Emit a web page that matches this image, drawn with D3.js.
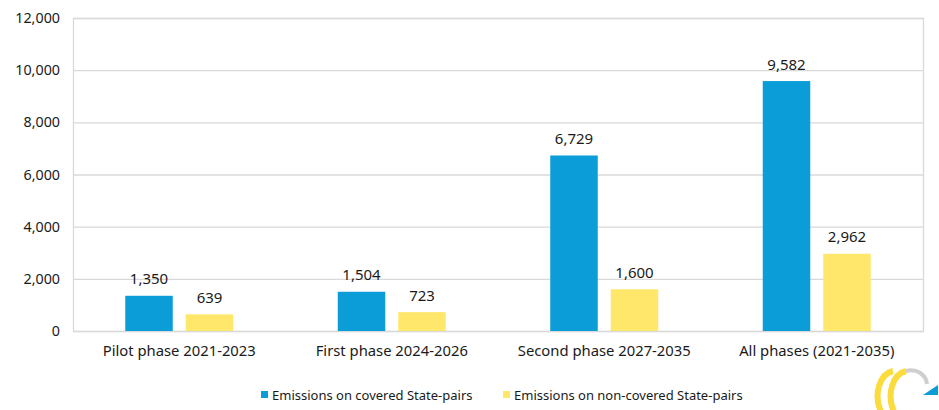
<!DOCTYPE html>
<html><head><meta charset="utf-8">
<script src="https://cdn.jsdelivr.net/npm/d3@7"></script>
<style>
body{margin:0;background:#fff;}
text{font-family:"Noto Sans",sans-serif;fill:#1a1a1a;}
</style></head>
<body>
<svg id="chart" width="939" height="410"></svg>
<script>
const categories = ["Pilot phase 2021-2023","First phase 2024-2026","Second phase 2027-2035","All phases (2021-2035)"];
const covered = [1350,1504,6729,9582];
const nonCovered = [639,723,1600,2962];
const seriesNames = ["Emissions on covered State-pairs","Emissions on non-covered State-pairs"];
const yTicks = [0,2000,4000,6000,8000,10000,12000];
const colors = ["#0a9dd8","#ffe76b"];

const svg = d3.select("#chart");
const L=73,R=923,T=18,B=331;
const x = d3.scaleBand().domain(categories).range([L,R]);
const y = d3.scaleLinear().domain([0,12000]).range([B,T]);
const fmt = d3.format(",");

// grid
svg.append("g").selectAll("line").data(yTicks).join("line")
  .attr("x1",L).attr("x2",R).attr("y1",d=>y(d)+0.5).attr("y2",d=>y(d)+0.5)
  .attr("stroke","#d9d9d9").attr("stroke-width",1.3);
svg.append("rect").attr("x",L+0.5).attr("y",T+0.5).attr("width",R-L).attr("height",B-T)
  .attr("fill","none").attr("stroke","#d9d9d9").attr("stroke-width",1.3);

// y axis labels
const yAxis = d3.axisLeft(y).tickValues(yTicks).tickFormat(fmt).tickSize(0).tickPadding(13);
const ya = svg.append("g").attr("transform",`translate(${L},0)`).call(yAxis);
ya.select(".domain").remove();
ya.selectAll("text").attr("font-size",14.3).style("font-family","'Noto Sans',sans-serif").attr("fill","#1a1a1a");

// x axis labels
const xAxis = d3.axisBottom(x).tickSize(0).tickPadding(14);
const xa = svg.append("g").attr("transform",`translate(0,${B})`).call(xAxis);
xa.select(".domain").remove();
xa.selectAll("text").attr("font-size",14.8).style("font-family","'Noto Sans',sans-serif").attr("fill","#1a1a1a");

const bw = 47.5, gap = 13;
const series = [covered, nonCovered];
series.forEach((vals,si)=>{
  const g = svg.append("g");
  const bx = d=> x(d)+x.bandwidth()/2 + (si===0 ? -gap/2-bw : gap/2);
  g.selectAll("rect").data(categories).join("rect")
    .attr("x",d=>bx(d)).attr("width",bw)
    .attr("y",(d,i)=>y(vals[i])).attr("height",(d,i)=>B-y(vals[i]))
    .attr("fill",colors[si]);
  g.selectAll("text").data(categories).join("text")
    .attr("x",d=>bx(d)+bw/2).attr("y",(d,i)=>y(vals[i])-11.5)
    .attr("text-anchor","middle").attr("font-size",15)
    .text((d,i)=>fmt(vals[i]));
});

// legend
const leg = svg.append("g");
const legX = [261,503];
seriesNames.forEach((n,i)=>{
  leg.append("rect").attr("x",legX[i]).attr("y",391).attr("width",7).attr("height",7).attr("fill",colors[i]);
  leg.append("text").attr("x",legX[i]+11).attr("y",399.5).attr("font-size",13).text(n);
});

// logo
const logo = svg.append("g");
logo.append("path").attr("d","M893,371 C880,374 873,394 881,412").attr("fill","none").attr("stroke","#fbdc3c").attr("stroke-width",6);
logo.append("path").attr("d","M906,371 C893,374 886,394 894,412").attr("fill","none").attr("stroke","#fbdc3c").attr("stroke-width",6);
logo.append("path").attr("d","M906,371 C917,368 926,375 927,384").attr("fill","none").attr("stroke","#cfcfcf").attr("stroke-width",4);
logo.append("path").attr("d","M923,395 L938,385 L938,395 Z").attr("fill","#0a9dd8");
</script>
</body></html>
